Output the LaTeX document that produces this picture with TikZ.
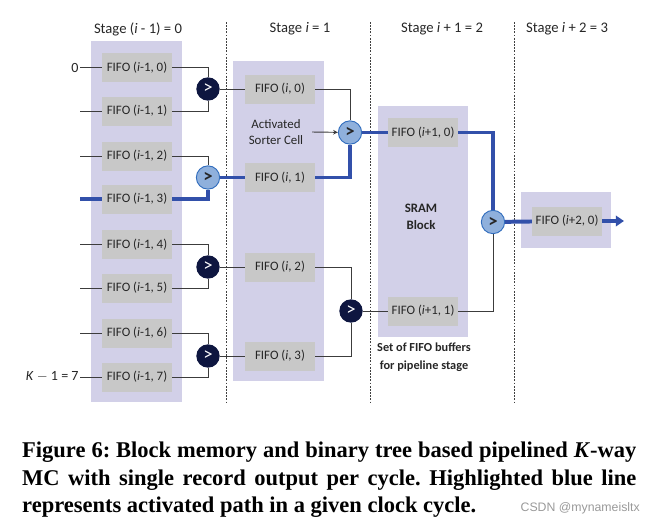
\documentclass[tikz,border=0pt]{standalone}
\usepackage{fontspec}
\setmainfont{Carlito}
\newfontfamily\capfont{Liberation Serif}
\newfontfamily\markfont{Liberation Sans}
\usetikzlibrary{shapes.geometric, arrows, arrows.meta}
\definecolor{stagelav}{RGB}{210,208,232}
\definecolor{fifogray}{RGB}{200,200,200}
\definecolor{hotblue}{RGB}{50,80,170}
\definecolor{wiregray}{RGB}{60,60,60}
\definecolor{cmpnavy}{RGB}{14,22,64}
\definecolor{cmplight}{RGB}{143,176,220}
\definecolor{cmpedge}{RGB}{50,110,190}
\frenchspacing

\begin{document}
\begin{tikzpicture}[x=0.03cm, y=-0.03cm]
        \tikzstyle{fifo} = [rectangle, fill=fifogray, minimum width=2.1cm, minimum height=0.87cm, inner sep=0, text=black!85, font=\fontsize{11}{13}\selectfont]
        \tikzstyle{cmp} = [circle, minimum size=0.7cm, inner sep=0, fill=cmpnavy, text=white, font=\fontsize{16}{16}\selectfont]
        \tikzstyle{cmpon} = [circle, minimum size=0.7cm, inner sep=0, fill=cmplight, draw=cmpedge, line width=0.8pt, text=black!85, font=\bfseries\fontsize{16}{16}\selectfont]
        \tikzstyle{wire} = [draw=wiregray, line width=0.8pt]
        \tikzstyle{hot} = [draw=hotblue, line width=3.4pt]
        \tikzstyle{stagelabel} = [text=black!85, font=\fontsize{12.5}{14}\selectfont]
        \tikzstyle{note} = [text=black!85, align=center, font=\fontsize{11}{13.5}\selectfont]
        \tikzstyle{sep} = [draw=black!75, line width=0.6pt, dash pattern=on 1.5pt off 1.2pt]
        \tikzstyle{capline} = [anchor=base west, inner sep=0, font=\capfont\bfseries\fontsize{19.2}{22}\selectfont]

        \useasboundingbox (0,0) rectangle (662,525);

        % stage backgrounds
        \fill[stagelav] (91,41) rectangle (182,402);
        \fill[stagelav] (233,61) rectangle (324,381);
        \fill[stagelav] (378,106) rectangle (468,337);
        \fill[stagelav] (521,192) rectangle (611,248);

        % stage separators and titles
        \foreach \x in {226,370,514}
            \draw[sep] (\x,22) -- (\x,404);
        \node (st0) [stagelabel] at (138,29) {Stage (\textit{i} - 1) = 0};
        \node (st1) [stagelabel] at (300,29) {Stage \textit{i} = 1};
        \node (st2) [stagelabel] at (442,29) {Stage \textit{i} + 1 = 2};
        \node (st3) [stagelabel] at (567,29) {Stage \textit{i} + 2 = 3};

        % stage i-1
        \foreach \k/\y in {0/67.5,1/111,2/156,3/199,4/244.5,5/288,6/333,7/377} {
            \node (f\k) [fifo] at (137,\y) {FIFO (\textit{i}-1, \k)};
            \coordinate (in\k) at (80,\y);
        }
        \node [anchor=east, inner sep=1pt, text=black!85, font=\fontsize{12}{14}\selectfont] at (in0) {0};
        \node [anchor=east, inner sep=1pt, text=black!85, font=\fontsize{12}{14}\selectfont] at (in7) {\textit{K} $-$ 1 = 7};

        \node (c0) [cmp] at (208,89) {>};
        \node (c1) [cmpon] at (208,177.5) {>};
        \node (c2) [cmp] at (208,267) {>};
        \node (c3) [cmp] at (208,356) {>};

        % stage i
        \node (g0) [fifo] at (280,89) {FIFO (\textit{i}, 0)};
        \node (g1) [fifo] at (280,177.5) {FIFO (\textit{i}, 1)};
        \node (g2) [fifo] at (280,267) {FIFO (\textit{i}, 2)};
        \node (g3) [fifo] at (280,356) {FIFO (\textit{i}, 3)};
        \node (act) [note] at (276,132) {Activated\\Sorter Cell};

        \node (d0) [cmpon] at (350,132.5) {>};
        \node (d1) [cmp] at (351,311) {>};

        % stage i+1
        \node (h0) [fifo] at (423,132.5) {FIFO (\textit{i}+1, 0)};
        \node (h1) [fifo] at (423,311) {FIFO (\textit{i}+1, 1)};
        \node (sram) [note, font=\bfseries\fontsize{11}{15}\selectfont] at (421,217) {SRAM\\Block};
        \node (set) [note, font=\bfseries\fontsize{10.5}{15}\selectfont] at (424,357.5) {Set of FIFO buffers\\for pipeline stage};

        \node (e0) [cmpon] at (493,222) {>};

        % stage i+2
        \node (k0) [fifo] at (567,221) {FIFO (\textit{i}+2, 0)};
        \coordinate (out) at (624,221);

        % plain wires
        \foreach \k in {0,1,2,4,5,6,7}
            \draw[wire] (in\k) -- (f\k);
        \draw[wire] (f0.east) -| (c0.north);
        \draw[wire] (f1.east) -| (c0.south);
        \draw[wire] (f2.east) -| (c1.north);
        \draw[wire] (f4.east) -| (c2.north);
        \draw[wire] (f5.east) -| (c2.south);
        \draw[wire] (f6.east) -| (c3.north);
        \draw[wire] (f7.east) -| (c3.south);
        \draw[wire] (c0) -- (g0);
        \draw[wire] (c2) -- (g2);
        \draw[wire] (c3) -- (g3);
        \draw[wire] (g0.east) -| (d0.north);
        \draw[wire] (g2.east) -| (d1.north);
        \draw[wire] (g3.east) -| (d1.south);
        \draw[wire] (d1) -- (h1);
        \draw[wire] (h1.east) -| (e0.south);
        \draw[wire, ->, >=stealth] ([xshift=4pt]act.east) -- (d0);

        % activated path
        \draw[hot] (in3) -- (f3);
        \draw[hot] (f3.east) -| (c1.south);
        \draw[hot] (c1) -- (g1);
        \draw[hot] (g1.east) -| (d0.south);
        \draw[hot] (d0) -- (h0);
        \draw[hot] (h0.east) -| (e0.north);
        \draw[hot] (e0) -- (k0);
        \draw[hot, -{Triangle[length=7pt, width=9pt]}] (k0) -- (out);

        % caption
        \node (cap1) [capline] at (22,457) {\makebox[18.42cm][s]{Figure 6: Block memory and binary tree based pipelined \textit{K}-way}};
        \node (cap2) [capline] at (22,485) {\makebox[18.42cm][s]{MC with single record output per cycle. Highlighted blue line}};
        \node (cap3) [capline] at (22,512) {represents activated path in a given clock cycle.};
        \node (mark) [anchor=base east, inner sep=0, text=black!40, font=\markfont\fontsize{10.5}{12}\selectfont] at (640,511) {CSDN @mynameisltx};
    \end{tikzpicture}
\end{document}
